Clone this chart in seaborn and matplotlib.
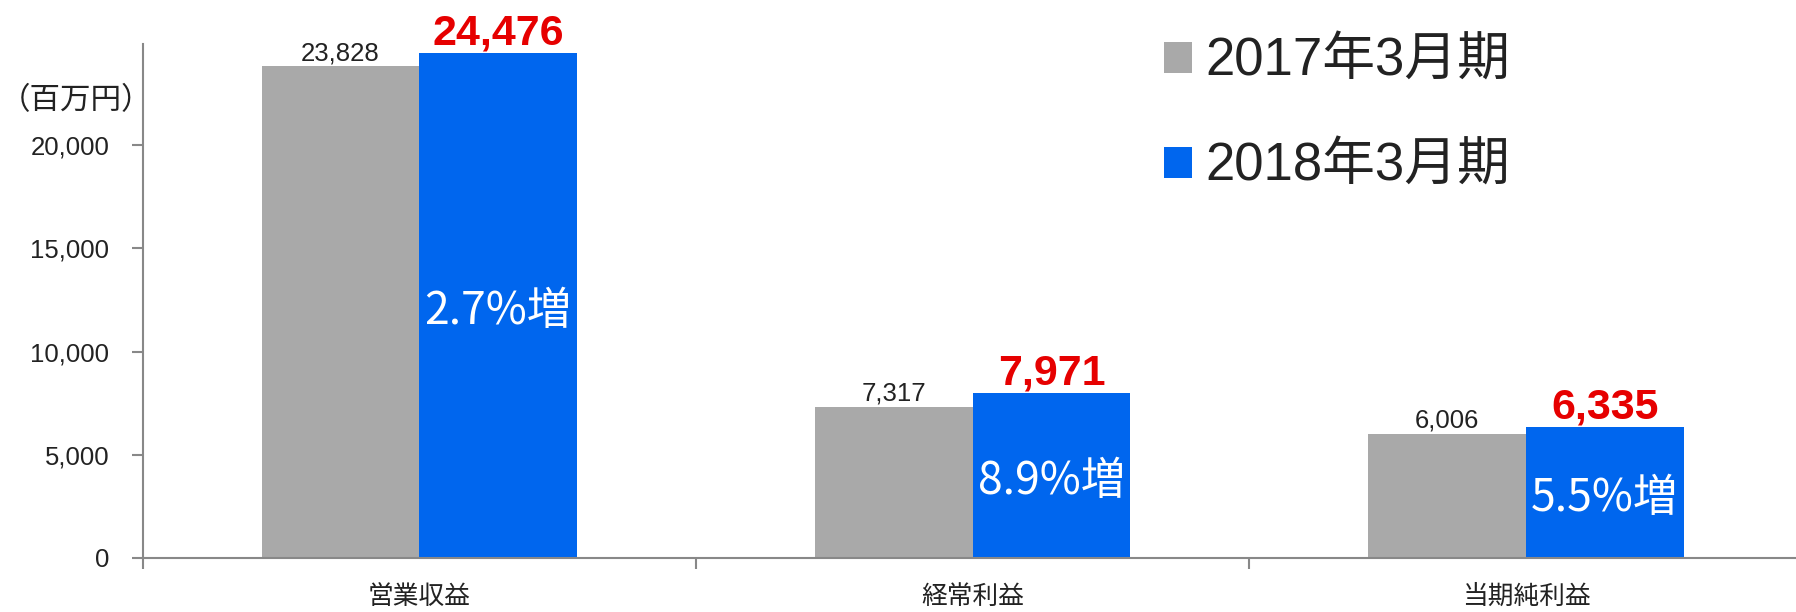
import matplotlib
matplotlib.use('Agg')
import matplotlib.pyplot as plt
import matplotlib.transforms as mtransforms
import seaborn as sns
import pandas as pd
from matplotlib.ticker import FuncFormatter

# data
items = ['営業収益', '経常利益', '当期純利益']
periods = ['2017年3月期', '2018年3月期']
v2017 = [23828, 7317, 6006]
v2018 = [24476, 7971, 6335]
growth = ['2.7%増', '8.9%増', '5.5%増']
yticks = [0, 5000, 10000, 15000, 20000]
colors = ['#a9a9a9', '#0066ee']

df = pd.DataFrame({
    'item': items * 2,
    'period': [periods[0]] * 3 + [periods[1]] * 3,
    'value': v2017 + v2018,
})

sns.set_style('white')
plt.rcParams['font.family'] = ['Liberation Sans', 'Noto Sans CJK JP']

W, H = 1796, 612
fig = plt.figure(figsize=(W / 100, H / 100), dpi=100)
ax = fig.add_axes([142.7 / W, 54.3 / H, 1660 / W, 513.4 / H])

sns.barplot(data=df, x='item', y='value', hue='period', order=items,
            hue_order=periods, palette=colors, saturation=1, width=0.57,
            gap=0, linewidth=0, errorbar=None, ax=ax)

ax.set_xlim(-0.5, 2.5)
ax.set_ylim(0, 24900)
ax.set_xlabel('')
ax.set_ylabel('')
sns.despine(ax=ax)
for s in ['left', 'bottom']:
    ax.spines[s].set_color('#888888')
    ax.spines[s].set_linewidth(1.5)

ax.set_yticks(yticks)
ax.yaxis.set_major_formatter(FuncFormatter(lambda v, p: f'{v:,.0f}'))
ax.tick_params(axis='y', left=True, length=8, width=1.5, color='#888888',
               pad=16, labelsize=18.5, labelcolor='#222222')
ax.set_xticks(range(len(items)))
ax.set_xticks([-0.5, 0.5, 1.5], minor=True)
ax.tick_params(axis='x', which='major', bottom=True, length=0, pad=19,
               labelsize=18.5, labelcolor='#222222')
ax.tick_params(axis='x', which='minor', bottom=True, length=8, width=1.5,
               color='#888888')
for t in ax.get_xticklabels():
    t.set_family('Noto Sans CJK JP')

c0, c1 = ax.containers[0], ax.containers[1]
ax.bar_label(c0, labels=[f'{v:,}' for v in v2017], padding=1,
             fontsize=18.5, color='#222222')
ax.bar_label(c1, labels=[f'{v:,}' for v in v2018], padding=0,
             fontsize=31, fontweight='bold', color='#e60000')
shift = mtransforms.offset_copy(ax.transData, fig=fig, x=0, y=-4, units='points')
for bar, g in zip(c1, growth):
    ax.text(bar.get_x() + bar.get_width() / 2, bar.get_height() / 2, g,
            ha='center', va='center', color='white', fontsize=32,
            family='Noto Sans CJK JP', transform=shift)

fig.text(0, 1 - 101 / H, '（百万円）', fontsize=22,
         family='Noto Sans CJK JP', ha='left', va='center', color='#222222')

handles, labels = ax.get_legend_handles_labels()
leg = ax.legend(handles, labels, loc='upper left',
                bbox_to_anchor=(1164 / W, 1 - 37 / H),
                bbox_transform=fig.transFigure, frameon=False, fontsize=38,
                handlelength=0.53, handleheight=0.53, handletextpad=0.25,
                labelspacing=1.04, borderpad=0, borderaxespad=0)
for t in leg.get_texts():
    t.set_color('#222222')

fig.savefig('out.png', dpi=100)
